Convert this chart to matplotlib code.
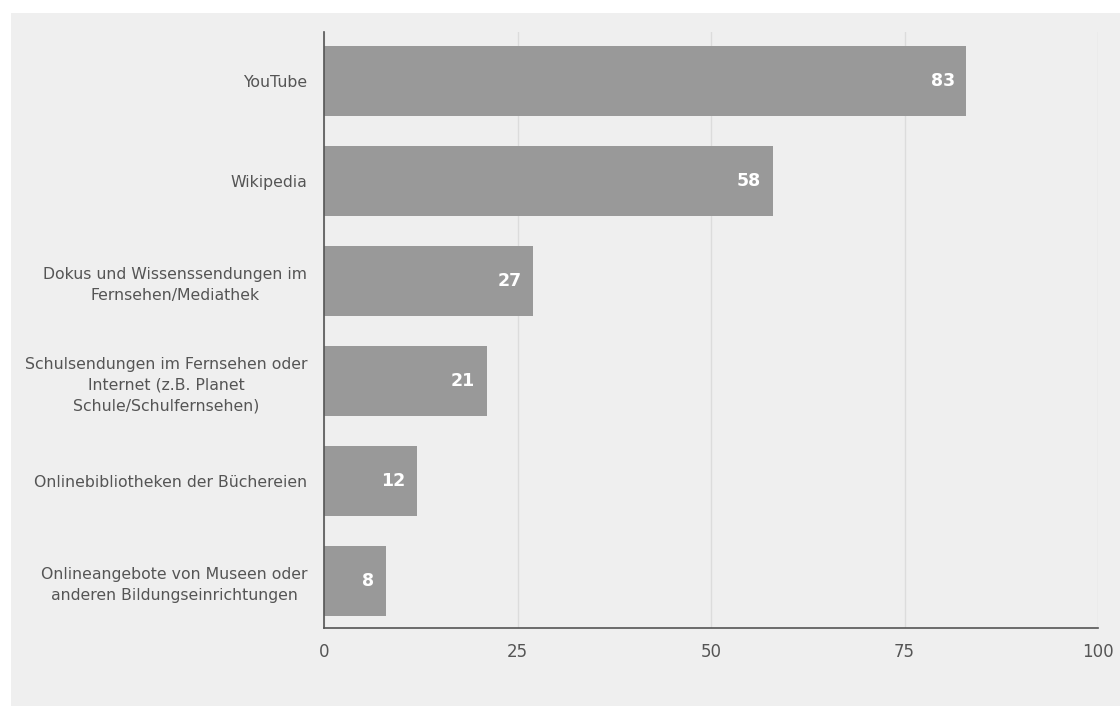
import matplotlib
matplotlib.use("Agg")
import matplotlib.pyplot as plt
from matplotlib.patches import Rectangle

categories = [
    "YouTube",
    "Wikipedia",
    "Dokus und Wissenssendungen im\nFernsehen/Mediathek",
    "Schulsendungen im Fernsehen oder\nInternet (z.B. Planet\nSchule/Schulfernsehen)",
    "Onlinebibliotheken der Büchereien",
    "Onlineangebote von Museen oder\nanderen Bildungseinrichtungen",
]
values = [83, 58, 27, 21, 12, 8]
xticks = [0, 25, 50, 75, 100]

font = ["DejaVu Sans"]

W, H = 1120, 706
fig = plt.figure(figsize=(W / 100, H / 100), dpi=100, facecolor="white")
bg = "#efefef"
fig.patches.append(Rectangle((11 / W, 0), 1 - 11 / W, 1 - 13 / H,
                             transform=fig.transFigure, facecolor=bg,
                             edgecolor="none", zorder=-10))

left, right, top, bottom = 324, 1098, 32, 628
ax = fig.add_axes([left / W, 1 - bottom / H, (right - left) / W, (bottom - top) / H])
ax.set_facecolor(bg)

txt = "#555555"

y = list(range(len(categories)))
ax.barh(y, values, height=0.7, color="#999999", zorder=2)
for yi, v in zip(y, values):
    ax.text(v - 1.5, yi, str(v), ha="right", va="center", color="white",
            fontsize=12.5, fontweight="bold", family=font, zorder=3)

ax.set_xlim(0, 100)
ax.set_ylim(5.47, -0.49)
ax.set_yticks(y)
ax.set_yticklabels(categories, family=font, fontsize=11.3, color=txt,
                   multialignment="center", linespacing=1.45)
ax.set_xticks(xticks)
ax.set_xticklabels([str(t) for t in xticks], family=font, fontsize=12, color=txt)
ax.tick_params(axis="y", length=0, pad=12)
ax.tick_params(axis="x", length=0, pad=11)
ax.grid(axis="x", color="#dcdcdc", linewidth=1, zorder=1)
for s in ["top", "right"]:
    ax.spines[s].set_visible(False)
for s in ["left", "bottom"]:
    ax.spines[s].set_color("#555555")
    ax.spines[s].set_linewidth(1.2)
    ax.spines[s].set_zorder(4)

fig.savefig("out.png", dpi=100, facecolor="white")
